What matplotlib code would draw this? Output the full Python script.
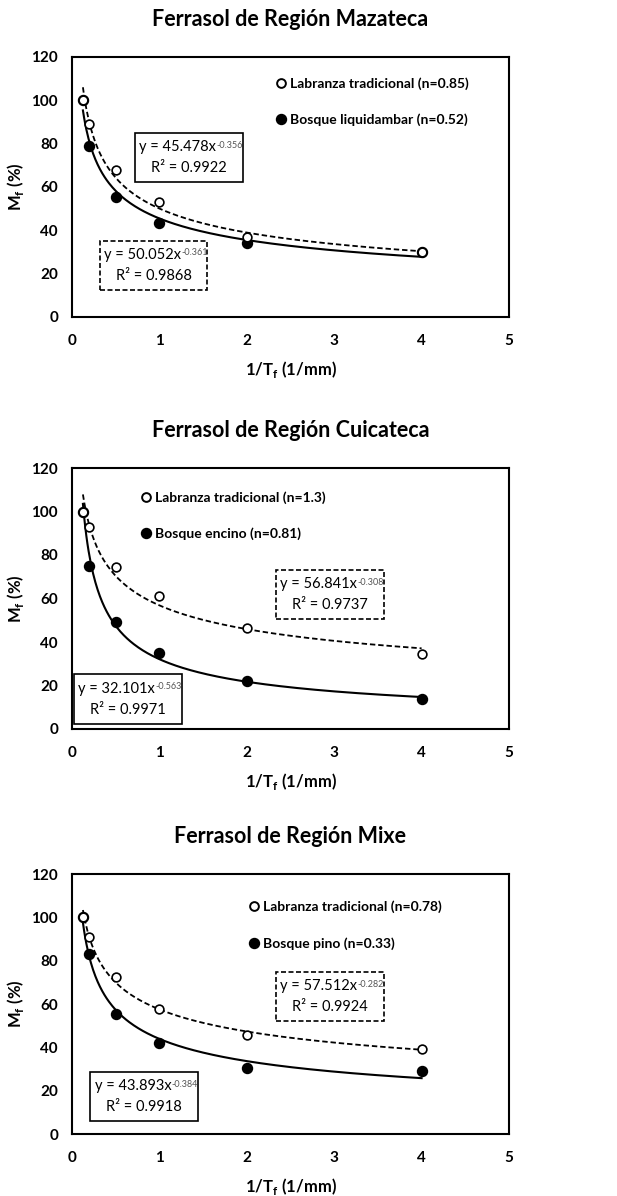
import matplotlib
matplotlib.use('Agg')
import matplotlib.pyplot as plt
import numpy as np
from matplotlib.lines import Line2D
from matplotlib.patches import Rectangle

plt.rcParams['font.family'] = ['Lato', 'DejaVu Sans']
plt.rcParams['mathtext.fontset'] = 'custom'
plt.rcParams['mathtext.rm'] = 'Lato'
plt.rcParams['mathtext.bf'] = 'Lato:bold'

# 1/Tf (1/mm)
x_vals = [0.125, 0.2, 0.5, 1.0, 2.0, 4.0]

titles = ['Ferrasol de Región Mazateca',
          'Ferrasol de Región Cuicateca',
          'Ferrasol de Región Mixe']

labranza_vals = [
    [100, 89, 68, 53, 37, 30],
    [100, 93, 74.5, 61, 46.3, 34.6],
    [100, 91, 72.4, 57.8, 45.8, 39.2],
]
bosque_vals = [
    [100, 79, 55.5, 43.5, 34, 30],
    [100, 75, 49.2, 35, 22, 14],
    [100, 83, 55.3, 42, 30.5, 29],
]

labranza_labels = ['Labranza tradicional (n=0.85)',
                   'Labranza tradicional (n=1.3)',
                   'Labranza tradicional (n=0.78)']
bosque_labels = ['Bosque liquidambar (n=0.52)',
                 'Bosque encino (n=0.81)',
                 'Bosque pino (n=0.33)']

# coeficientes de la tendencia potencial y = a * x^b
labranza_fit = [(50.052, -0.361, 0.9868),
                (56.841, -0.308, 0.9737),
                (57.512, -0.282, 0.9924)]
bosque_fit = [(45.478, -0.356, 0.9922),
              (32.101, -0.563, 0.9971),
              (43.893, -0.384, 0.9918)]

# posiciones (fracción de ejes) de leyenda y cajas de ecuación
legend_pos = [(0.468, 0.922), (0.160, 0.910), (0.406, 0.897)]
lab_box_pos = [(0.063, 0.105), (0.466, 0.421), (0.466, 0.435)]
bos_box_pos = [(0.144, 0.519), (0.004, 0.020), (0.042, 0.049)]
BOX_W, BOX_H = 0.247, 0.189

W, H = 617, 1196
axes_px = [(72, 57, 509, 317), (72, 468, 509, 729), (72, 874, 509, 1134)]

fig = plt.figure(figsize=(W / 100, H / 100), dpi=100)


def eq_box(ax, pos, fit, ls):
    a, b, r2 = fit
    ax.add_patch(Rectangle(pos, BOX_W, BOX_H, transform=ax.transAxes,
                           fill=True, fc='white', ec='black', lw=1.2,
                           ls=ls, zorder=4))
    cx = pos[0] + BOX_W / 2
    cy = pos[1] + BOX_H / 2
    t1 = ax.text(cx - 0.026, cy + 0.040, f'y = {a:.3f}x',
                 transform=ax.transAxes, ha='center', va='center',
                 fontsize=10.5, zorder=5)
    ax.annotate(f'{b:.3f}', xy=(1, 1), xycoords=t1, xytext=(0.3, -0.5),
                textcoords='offset points', ha='left', va='top',
                fontsize=6.5, color='#555555', zorder=5)
    ax.text(cx, cy - 0.040, f'R² = {r2:.4f}', transform=ax.transAxes,
            ha='center', va='center', fontsize=10.5, zorder=5)


for i in range(3):
    l, t, r, b = axes_px[i]
    ax = fig.add_axes([l / W, 1 - b / H, (r - l) / W, (b - t) / H])

    xs = np.linspace(x_vals[0], x_vals[-1], 300)
    a, p, _ = labranza_fit[i]
    ax.plot(xs, a * xs ** p, color='black', lw=1.3, ls=(0, (3, 1.6)),
            zorder=2)
    a, p, _ = bosque_fit[i]
    ax.plot(xs, a * xs ** p, color='black', lw=1.5, zorder=2)

    ax.plot(x_vals, bosque_vals[i], 'o', ms=7.2, color='black', zorder=3)
    ax.plot(x_vals, labranza_vals[i], 'o', ms=6.3, mfc='white',
            mec='black', mew=1.2, zorder=3)

    handles = [
        Line2D([], [], marker='o', ls='none', ms=6.3, mfc='white',
               mec='black', mew=1.4),
        Line2D([], [], marker='o', ls='none', ms=7.2, color='black'),
    ]
    ax.legend(handles, [labranza_labels[i], bosque_labels[i]],
              loc='upper left', bbox_to_anchor=legend_pos[i],
              frameon=False, prop={'size': 10, 'weight': 'bold'},
              handlelength=0.6, handletextpad=0.35, labelspacing=1.7,
              borderpad=0, borderaxespad=0)

    eq_box(ax, lab_box_pos[i], labranza_fit[i], (0, (3, 1.5)))
    eq_box(ax, bos_box_pos[i], bosque_fit[i], '-')

    ax.set_xlim(0, 5)
    ax.set_ylim(0, 120)
    ax.set_xticks(range(0, 6))
    ax.set_yticks(range(0, 121, 20))
    ax.tick_params(length=0, labelsize=11)
    ax.tick_params(axis='x', pad=12)
    ax.tick_params(axis='y', pad=10)
    for lab in ax.get_xticklabels() + ax.get_yticklabels():
        lab.set_fontweight('bold')
    for sp in ax.spines.values():
        sp.set_linewidth(1.5)
        sp.set_color('black')

    ax.set_xlabel(r'1/T$_\mathbf{f}$ (1/mm)', fontsize=12,
                  fontweight='bold', labelpad=8)
    ax.set_ylabel(r'M$_\mathbf{f}$ (%)', fontsize=12,
                  fontweight='bold', labelpad=4)
    ax.set_title(titles[i], fontsize=15.5, fontweight='bold', pad=22)

fig.savefig('out.png', dpi=100)
